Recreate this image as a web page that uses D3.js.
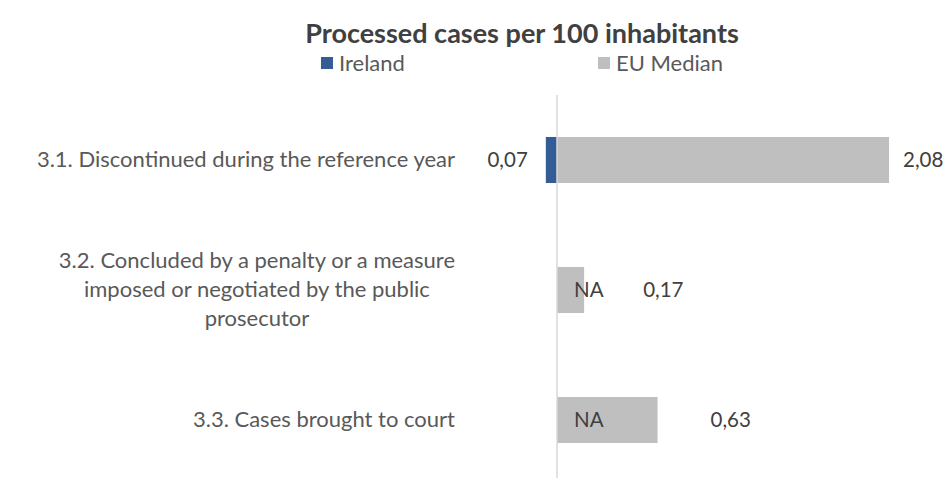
<!DOCTYPE html>
<html>
<head>
<meta charset="utf-8">
<script src="https://cdn.jsdelivr.net/npm/d3@7"></script>
<style>
  html, body { margin: 0; padding: 0; background: #fff; }
  svg { display: block; }
  text { font-family: Lato, "Noto Sans", sans-serif; }
</style>
</head>
<body>
<script>
// Processed cases per 100 inhabitants: Ireland (left) vs EU median (right)
const categories = [
  "3.1. Discontinued during the reference year",
  "3.2. Concluded by a penalty or a measure imposed or negotiated by the public prosecutor",
  "3.3. Cases brought to court"
];
const categoryLines = [
  ["3.1. Discontinued during the reference year"],
  ["3.2. Concluded by a penalty or a measure", "imposed or negotiated by the public", "prosecutor"],
  ["3.3. Cases brought to court"]
];
const irelandValues = [0.07, null, null];
const euMedianValues = [2.08, 0.17, 0.63];
const seriesNames = ["Ireland", "EU Median"];
const colors = { ireland: "#335d94", eu: "#bfbfbf" };

const W = 950, H = 478;
const axisX = 557;
const svg = d3.select("body").append("svg").attr("width", W).attr("height", H);

const x = d3.scaleLinear().domain([0, 2.08]).range([axisX, 889]);
const y = d3.scaleBand().domain(categories).range([95, 485])
  .paddingInner(0.646).paddingOuter(0.323);

// title
svg.append("text")
  .attr("x", 522).attr("y", 43)
  .attr("text-anchor", "middle")
  .attr("font-size", 27).attr("font-weight", 700)
  .attr("fill", "#404040")
  .text("Processed cases per 100 inhabitants");

// legend
const legend = [
  { name: seriesNames[0], color: colors.ireland, x: 321 },
  { name: seriesNames[1], color: colors.eu, x: 598 }
];
const lg = svg.selectAll("g.legend").data(legend).join("g").attr("class", "legend");
lg.append("rect").attr("x", d => d.x).attr("y", 57).attr("width", 12).attr("height", 12)
  .attr("fill", d => d.color);
lg.append("text").attr("x", d => d.x + 18).attr("y", 71)
  .attr("font-size", 22).attr("fill", "#595959").text(d => d.name);

// EU median bars (right of axis)
svg.selectAll("rect.eu").data(euMedianValues).join("rect").attr("class", "eu")
  .attr("x", x(0))
  .attr("y", (d, i) => y(categories[i]))
  .attr("width", d => x(d) - x(0))
  .attr("height", y.bandwidth())
  .attr("fill", colors.eu);

// Ireland bars (left of axis)
svg.selectAll("rect.ie").data(irelandValues).join("rect").attr("class", "ie")
  .filter(d => d != null)
  .attr("x", d => x(-d))
  .attr("y", (d, i) => y(categories[i]))
  .attr("width", d => x(0) - x(-d))
  .attr("height", y.bandwidth())
  .attr("fill", colors.ireland);

// vertical axis line
svg.append("line")
  .attr("x1", axisX).attr("x2", axisX)
  .attr("y1", 95).attr("y2", H)
  .attr("stroke", "#d9d9d9").attr("stroke-width", 1.5);

const fmt = v => d3.format(".2f")(v).replace(".", ",");
const mid = i => y(categories[i]) + y.bandwidth() / 2;

// Ireland labels
svg.selectAll("text.ie").data(irelandValues).join("text").attr("class", "ie")
  .attr("x", d => d == null ? x(0) + 17 : x(-d) - 18)
  .attr("y", (d, i) => mid(i) + 7)
  .attr("text-anchor", d => d == null ? "start" : "end")
  .attr("font-size", 20.5).attr("fill", "#404040")
  .text(d => d == null ? "NA" : fmt(d));

// EU median labels, pushed clear of any NA label
const euLabelGap = [14, 59, 53];
svg.selectAll("text.eu").data(euMedianValues).join("text").attr("class", "eu")
  .attr("x", (d, i) => x(d) + euLabelGap[i])
  .attr("y", (d, i) => mid(i) + 7)
  .attr("font-size", 20.5).attr("fill", "#404040")
  .text(d => fmt(d));

// category labels
const lineH = 29;
categoryLines.forEach((lines, i) => {
  const t = svg.append("text").attr("class", "cat")
    .attr("font-size", 22).attr("fill", "#595959")
    .attr("text-anchor", "middle");
  const n = lines.length;
  lines.forEach((l, k) => {
    t.append("tspan")
      .attr("y", mid(i) + 7 + (k - (n - 1) / 2) * lineH)
      .text(l);
  });
});
// right edge of each label block at 455, lines centred within the block
svg.selectAll("text.cat").each(function () {
  const spans = d3.select(this).selectAll("tspan").nodes();
  const w = d3.max(spans, s => s.getComputedTextLength());
  d3.select(this).selectAll("tspan").attr("x", 455 - w / 2);
});
</script>
</body>
</html>
